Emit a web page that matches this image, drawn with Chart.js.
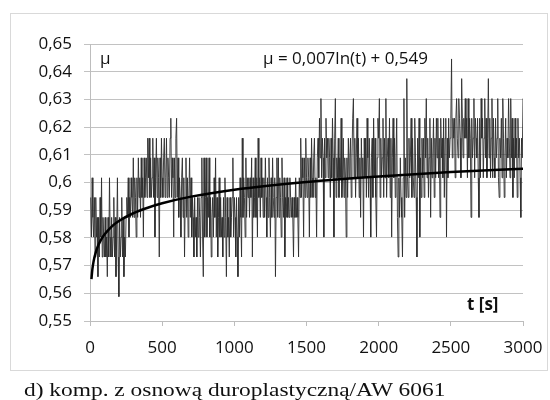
<!DOCTYPE html>
<html>
<head>
<meta charset="utf-8">
<script src="https://cdn.jsdelivr.net/npm/chart.js@4.4.1/dist/chart.umd.min.js"></script>
<style>
  html, body { margin: 0; padding: 0; background: #ffffff; }
  #wrap { position: relative; width: 550px; height: 400px; overflow: hidden; background: #fff; }
  #frame { position: absolute; left: 10px; top: 13px; width: 538px; height: 358px; border: 1px solid #d9d9d9; box-sizing: border-box; }
  #chart { position: absolute; left: 0; top: 0; }
  #caption { position: absolute; left: 24px; top: 380px; font-family: "Liberation Serif", "DejaVu Serif", serif; font-size: 19.5px; line-height: 19.5px; color: #111; white-space: nowrap; transform: scaleX(1.2); transform-origin: 0 0; }
</style>
</head>
<body>
<div id="wrap">
  <div id="frame"></div>
  <canvas id="chart" width="550" height="400"></canvas>
  <div id="caption">d) komp. z osnową duroplastyczną/AW 6061</div>
</div>
<script>
// ---- data ----
// quantised friction-coefficient levels visible in the signal
const levels = [0.5588, 0.5660, 0.5731, 0.5803, 0.5874, 0.5946, 0.6017, 0.6089, 0.6160, 0.6232, 0.6303, 0.6375, 0.6446];
// sampling step of the recorded signal, s
const sampleStep = 5;
// measured signal, as index into `levels`, one entry per sample (t = 5 ... 3000 s)
const levelIndex = [
  5,3,6,4,3,5,2,5,3,4,1,4,2,5,3,6,2,4,3,2,
  4,2,3,1,4,2,6,3,2,4,2,3,5,2,4,1,3,6,2,0,
  4,2,3,5,2,4,1,3,2,4,5,4,6,3,5,4,6,5,4,7,
  4,6,5,3,6,4,7,5,6,4,7,5,6,3,7,5,6,7,5,8,
  6,8,5,7,5,6,8,5,7,3,6,8,5,7,6,2,7,5,8,6,
  5,7,8,5,6,8,5,7,6,5,8,9,5,7,6,3,7,5,8,9,
  5,7,4,6,5,3,6,7,4,6,2,5,7,4,6,3,5,7,4,6,
  3,5,4,2,5,3,4,2,5,3,5,4,2,5,7,3,1,7,3,5,
  7,3,5,4,7,3,5,2,4,5,3,6,4,7,3,5,2,4,6,3,
  5,3,4,2,5,3,6,4,1,5,3,4,2,5,3,4,5,7,3,5,
  4,2,5,3,1,5,3,6,4,2,8,4,6,5,3,7,4,6,5,6,
  4,6,5,7,2,6,4,5,7,4,6,3,8,5,6,4,7,5,6,4,
  6,4,7,5,3,6,4,7,5,3,6,4,7,5,4,6,1,5,7,4,
  7,4,6,5,3,7,5,4,6,2,5,4,6,4,5,4,6,5,4,5,
  4,2,5,4,6,4,5,4,2,6,5,8,5,7,6,3,7,5,8,6,
  5,7,6,3,7,5,8,6,5,7,8,5,6,3,7,8,6,9,7,10,
  6,8,7,3,8,6,9,7,8,6,8,7,5,8,6,9,7,3,8,10,
  5,7,6,8,5,7,6,9,5,6,8,5,7,6,3,7,5,8,6,7,
  8,5,7,9,10,6,8,5,7,9,6,8,5,7,4,8,6,7,3,8,
  6,8,5,9,7,5,8,6,3,7,8,5,9,6,8,5,3,7,9,8,
  10,5,8,6,7,9,5,8,6,10,5,7,8,6,9,5,8,3,7,9,
  6,8,5,7,9,4,2,6,4,7,5,4,2,6,10,4,7,5,11,6,
  5,8,6,7,9,5,8,6,5,9,7,5,2,8,6,9,3,7,5,8,
  6,8,5,9,7,10,6,8,5,7,9,4,8,6,7,9,5,8,6,9,
  7,9,6,8,4,9,7,8,6,9,5,8,9,3,8,6,9,7,8,9,
  12,7,9,8,9,6,9,10,8,7,10,9,8,6,11,9,7,9,8,10,
  8,9,6,10,7,9,8,4,9,7,8,10,6,9,8,7,9,6,4,9,
  6,10,8,9,6,8,10,7,9,6,8,11,7,9,6,8,10,6,9,7,
  6,9,7,8,10,6,5,8,7,9,6,10,8,5,7,9,6,8,7,10,
  8,6,10,7,9,5,8,6,9,7,8,5,9,7,8,6,4,8,7,10
];
// logarithmic trend line
const trendT  = [10, 15, 20, 30, 40, 50, 75, 100, 150, 200, 300, 400, 500, 700, 1000, 1500, 2000, 2500, 3000];
const trendMu = [0.5651, 0.5680, 0.5700, 0.5728, 0.5748, 0.5764, 0.5792, 0.5812, 0.5841, 0.5861, 0.5889, 0.5909, 0.5925, 0.5949, 0.5974, 0.6002, 0.6022, 0.6038, 0.6050];
// axes
const xTickValues = [0, 500, 1000, 1500, 2000, 2500, 3000];
const xTickLabels = ['0', '500', '1000', '1500', '2000', '2500', '3000'];
const yTickValues = [0.55, 0.56, 0.57, 0.58, 0.59, 0.60, 0.61, 0.62, 0.63, 0.64, 0.65];
const yTickLabels = ['0,55', '0,56', '0,57', '0,58', '0,59', '0,6', '0,61', '0,62', '0,63', '0,64', '0,65'];
const yLabel = 'μ';
const xLabel = 't [s]';
const equationText = 'μ = 0,007ln(t) + 0,549';

// ---- build datasets ----
const measured = levelIndex.map((k, i) => ({ x: (i + 1) * sampleStep, y: levels[k] }));
const trend = trendT.map((t, i) => ({ x: t, y: trendMu[i] }));

const FONT = '"Open Sans", "Liberation Sans", sans-serif';

const textPlugin = {
  id: 'annotText',
  afterDraw(chart) {
    const ctx = chart.ctx;
    ctx.save();
    ctx.fillStyle = '#111111';
    ctx.textBaseline = 'middle';
    ctx.textAlign = 'left';
    ctx.font = '17px ' + FONT;
    ctx.fillText(yLabel, 100, 59);
    ctx.fillText(equationText, 263, 59);
    ctx.font = 'bold 17px ' + FONT;
    ctx.fillText(xLabel, 467, 305);
    ctx.restore();
  }
};

new Chart(document.getElementById('chart'), {
  type: 'line',
  data: {
    datasets: [
      {
        data: trend,
        borderColor: '#000000',
        borderWidth: 2.5,
        pointRadius: 0,
        cubicInterpolationMode: 'monotone',
        fill: false,
        order: 0
      },
      {
        data: measured,
        borderColor: 'rgba(45,45,45,0.9)',
        borderWidth: 1,
        pointRadius: 0,
        tension: 0,
        fill: false,
        order: 1
      }
    ]
  },
  options: {
    responsive: false,
    animation: false,
    devicePixelRatio: 1,
    layout: { padding: { top: 44, right: 27, bottom: 0, left: 0 } },
    plugins: { legend: { display: false }, tooltip: { enabled: false }, title: { display: false } },
    scales: {
      x: {
        type: 'linear',
        min: 0,
        max: 3000,
        afterBuildTicks: s => { s.ticks = xTickValues.map(v => ({ value: v })); },
        afterFit: s => { s.height = 79; s.paddingLeft = 0; s.paddingRight = 20; },
        grid: { drawOnChartArea: false, drawTicks: true, tickLength: 5, color: '#bdbdbd' },
        border: { display: true, color: '#bdbdbd', width: 1 },
        ticks: {
          callback: (v, i) => xTickLabels[i],
          autoSkip: false, maxRotation: 0, minRotation: 0,
          padding: 12,
          color: '#111111',
          font: { family: FONT, size: 17 }
        }
      },
      y: {
        type: 'linear',
        min: 0.55,
        max: 0.65,
        afterBuildTicks: s => { s.ticks = yTickValues.map(v => ({ value: v })); },
        afterFit: s => { s.width = 90; },
        grid: { drawOnChartArea: true, drawTicks: true, tickLength: 6, color: '#c2c2c2' },
        border: { display: true, color: '#bdbdbd', width: 1 },
        ticks: {
          callback: (v, i) => yTickLabels[i],
          padding: 12,
          color: '#111111',
          font: { family: FONT, size: 17 }
        }
      }
    }
  },
  plugins: [textPlugin]
});
</script>
</body>
</html>
